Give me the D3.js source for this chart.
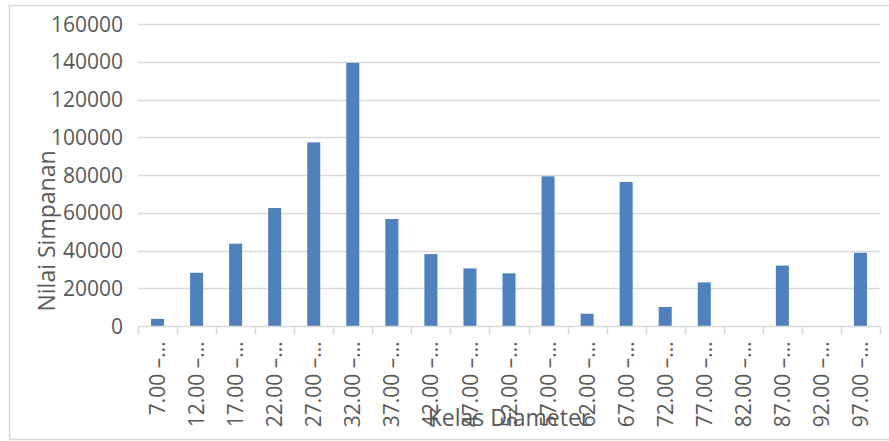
<!DOCTYPE html>
<html>
<head>
<meta charset="utf-8">
<script src="https://cdn.jsdelivr.net/npm/d3@7"></script>
<style>
body{margin:0;background:#fff;}
svg{display:block;font-family:"Open Sans",sans-serif;}
</style>
</head>
<body>
<div id="chart"></div>
<script>
// data
var categories=["7.00","12.00","17.00","22.00","27.00","32.00","37.00","42.00","47.00","52.00","57.00","62.00","67.00","72.00","77.00","82.00","87.00","92.00","97.00"];
var values=[3800,28200,43600,62500,97300,139400,56700,38100,30500,27900,79300,6500,76300,10100,23100,0,32000,0,38800];
var yTicks=[0,20000,40000,60000,80000,100000,120000,140000,160000];

var width=889,height=441;
var mLeft=138,mRight=880,mTop=24,mBottom=326;

var svg=d3.select("#chart").append("svg")
	.attr("width",width)
	.attr("height",height);

// chart border
svg.append("path")
	.attr("d","M900,5.5H9.5V439.5H900")
	.attr("fill","none")
	.attr("stroke","#d9d9d9")
	.attr("stroke-width",1.5);

var xscale=d3.scaleBand()
	.domain(categories)
	.range([mLeft,mRight])
	.padding(0);

var yscale=d3.scaleLinear()
	.domain([0,160000])
	.range([mBottom,mTop]);

//gridlines
svg.append("g")
	.selectAll("line")
	.data(yTicks.slice(1))
	.enter().append("line")
	.attr("x1",mLeft)
	.attr("x2",mRight)
	.attr("y1",function(d){return Math.round(yscale(d))+0.5;})
	.attr("y2",function(d){return Math.round(yscale(d))+0.5;})
	.attr("stroke","#d9d9d9")
	.attr("stroke-width",1.5);

// y labels
svg.append("g")
	.selectAll("text")
	.data(yTicks)
	.enter().append("text")
	.attr("x",123)
	.attr("y",function(d){return yscale(d);})
	.attr("dy","0.36em")
	.attr("text-anchor","end")
	.attr("fill","#595959")
	.attr("font-size",21)
	.text(function(d){return d;});

// bars
svg.append("g")
	.selectAll("rect")
	.data(values)
	.enter().append("rect")
	.attr("x",function(d,i){return xscale(categories[i])+xscale.bandwidth()/3;})
	.attr("width",xscale.bandwidth()/3)
	.attr("y",function(d){return yscale(d);})
	.attr("height",function(d){return yscale(0)-yscale(d);})
	.attr("fill","#4f81bd");

// x axis line and ticks at band edges
var xa=svg.append("g").attr("transform","translate(0,"+(mBottom+0.5)+")");
xa.append("line")
	.attr("x1",mLeft).attr("x2",mRight)
	.attr("stroke","#d9d9d9").attr("stroke-width",1.5);
var edges=categories.map(function(c){return xscale(c);}).concat([mRight]);
xa.selectAll(".tk")
	.data(edges)
	.enter().append("line")
	.attr("x1",function(d){return Math.round(d)+0.5;})
	.attr("x2",function(d){return Math.round(d)+0.5;})
	.attr("y1",0).attr("y2",8)
	.attr("stroke","#d9d9d9").attr("stroke-width",1.5);

// x labels, rotated
xa.selectAll(".lbl")
	.data(categories)
	.enter().append("text")
	.attr("transform",function(d){return "translate("+(xscale(d)+xscale.bandwidth()/2)+",15) rotate(-90)";})
	.attr("dy","0.36em")
	.attr("text-anchor","end")
	.attr("fill","#595959")
	.attr("font-size",21)
	.text(function(d){return d+" \u2013\u2026";});

// axis titles
svg.append("text")
	.attr("x",(mLeft+mRight)/2)
	.attr("y",426)
	.attr("text-anchor","middle")
	.attr("fill","#595959")
	.attr("font-size",23)
	.text("Kelas Diameter");

svg.append("text")
	.attr("transform","translate(55,231) rotate(-90)")
	.attr("text-anchor","middle")
	.attr("fill","#595959")
	.attr("font-size",23)
	.text("Nilai Simpanan");
</script>
</body>
</html>
